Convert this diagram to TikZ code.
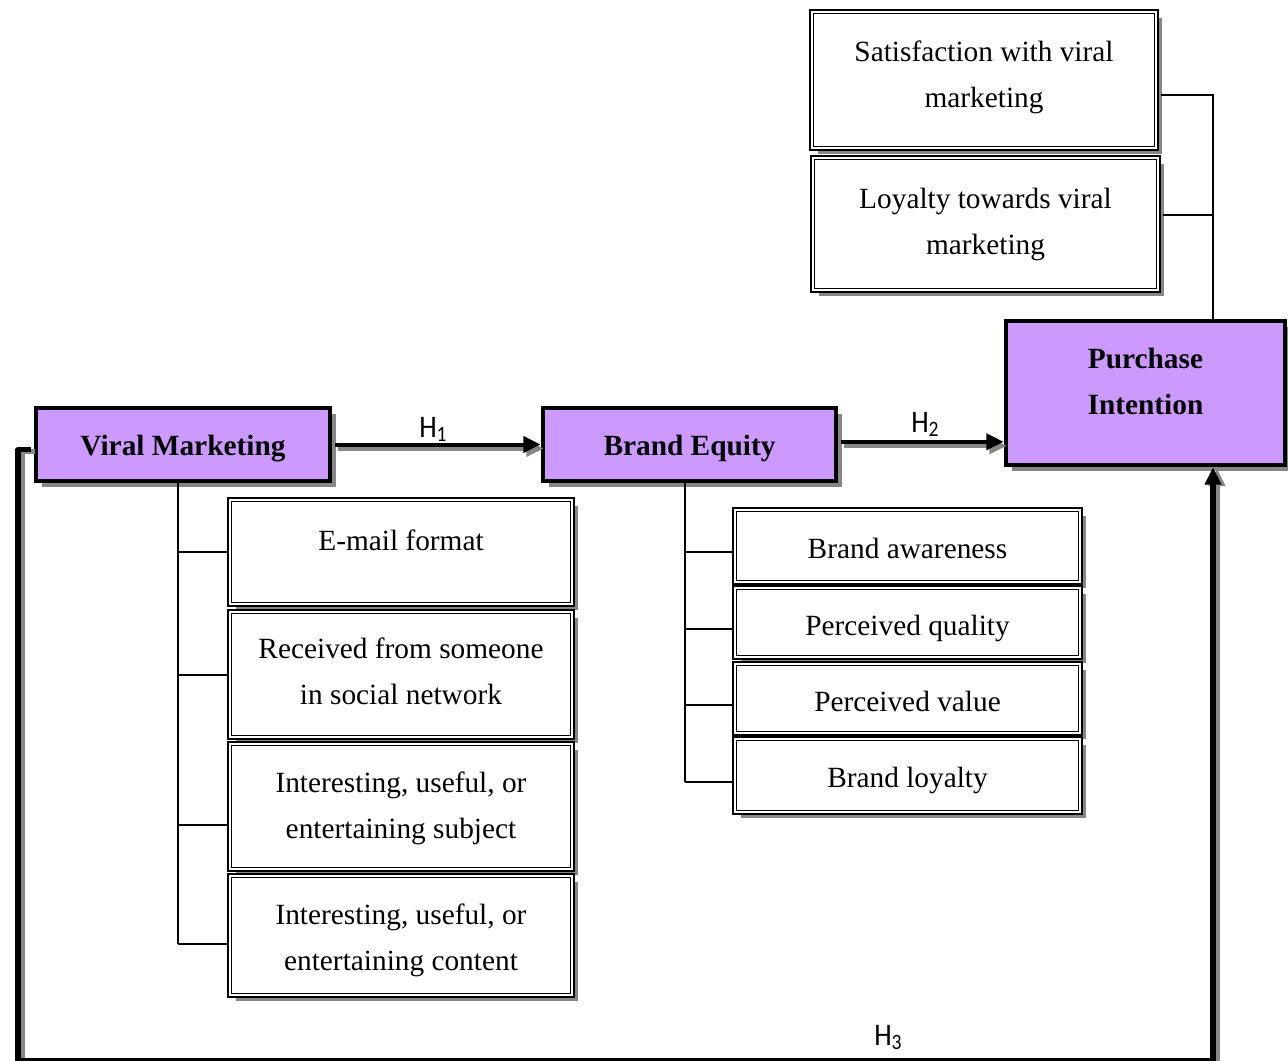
\documentclass[tikz,border=0pt]{standalone}
\usepackage{fontspec}
\usepackage{graphicx}
\setmainfont{Liberation Serif}
\newfontfamily\hfont{Carlito}
\usetikzlibrary{arrows.meta,shadows,calc}
\definecolor{lav}{RGB}{204,153,255}
\definecolor{shd}{RGB}{135,135,135}
\newcommand{\hyplab}[1]{\scalebox{1}[1.12]{H\textsubscript{#1}}}
\begin{document}
\begin{tikzpicture}[x=0.75pt,y=-0.75pt,
 txt/.style={font=\fontsize{22}{34.5}\selectfont, align=center, inner sep=0pt},
 btxt/.style={font=\fontsize{22}{34.5}\selectfont\bfseries, align=center, inner sep=0pt},
 mainbox/.style={draw=black, line width=3.5pt, fill=lav, inner sep=0pt,
   drop shadow={shadow xshift=4.5pt, shadow yshift=-4.5pt, fill=shd, opacity=1}},
 subbox/.style={draw=black, line width=0.9pt, double=white, double distance=1.4pt, fill=white, inner sep=0pt,
   drop shadow={shadow xshift=4.6pt, shadow yshift=-4.6pt, fill=shd, opacity=1},
   preaction={draw=black, line width=5.0pt}},
 tree/.style={line width=1.5pt},
 arrline/.style={line width=3pt, -{Triangle[length=13pt,width=12pt]}},
 hlab/.style={font=\hfont\fontsize{21}{22}\selectfont, inner sep=0pt, anchor=base west}
]
\useasboundingbox (0,0) rectangle (1288,1060);

% top-right factor boxes
\node[subbox, minimum width=344*0.75pt, minimum height=136*0.75pt] (sat) at (984,80) {};
\node[txt] (satt) at (984,77) {Satisfaction with viral\\marketing};
\node[subbox, minimum width=345*0.75pt, minimum height=132*0.75pt] (loy) at (985.5,224) {};
\node[txt] (loyt) at (985.5,224) {Loyalty towards viral\\marketing};

% main constructs
\node[mainbox, minimum width=294*0.75pt, minimum height=73*0.75pt] (vm) at (183,444.5) {};
\node[btxt] (vmt) at (183,448.5) {Viral Marketing};
\node[mainbox, minimum width=293*0.75pt, minimum height=73*0.75pt] (be) at (689.5,444.5) {};
\node[btxt] (bet) at (689.5,448.5) {Brand Equity};
\node[mainbox, minimum width=279*0.75pt, minimum height=144*0.75pt] (pi) at (1145.5,393) {};
\node[btxt] (pit) at (1145.5,381) {Purchase\\Intention};

% viral marketing dimensions
\node[subbox, minimum width=342*0.75pt, minimum height=104*0.75pt] (e1) at (401,552) {};
\node[txt] (e1t) at (401,540) {E-mail format};
\node[subbox, minimum width=342*0.75pt, minimum height=125*0.75pt] (e2) at (401,674.5) {};
\node[txt] (e2t) at (401,671.5) {Received from someone\\in social network};
\node[subbox, minimum width=342*0.75pt, minimum height=125*0.75pt] (e3) at (401,806.5) {};
\node[txt] (e3t) at (401,808.5) {Interesting, useful, or\\entertaining subject};
\node[subbox, minimum width=342*0.75pt, minimum height=119*0.75pt] (e4) at (401,935.5) {};
\node[txt] (e4t) at (401,940.5) {Interesting, useful, or\\entertaining content};

% brand equity dimensions
\node[subbox, minimum width=345*0.75pt, minimum height=72*0.75pt] (b1) at (907.5,546) {};
\node[txt] (b1t) at (907.5,548) {Brand awareness};
\node[subbox, minimum width=345*0.75pt, minimum height=69*0.75pt] (b2) at (907.5,622.5) {};
\node[txt] (b2t) at (907.5,628.5) {Perceived quality};
\node[subbox, minimum width=345*0.75pt, minimum height=69*0.75pt] (b3) at (907.5,698.5) {};
\node[txt] (b3t) at (907.5,701.5) {Perceived value};
\node[subbox, minimum width=345*0.75pt, minimum height=73*0.75pt] (b4) at (907.5,775.5) {};
\node[txt] (b4t) at (907.5,780.5) {Brand loyalty};

% tree connectors
\coordinate (vt) at (178,0);
\coordinate (bt) at (685,0);
\coordinate (pt) at (1213,0);
\draw[tree] (vt |- vm.south) -- ([yshift=-6.5pt]e4.west -| vt);
\draw[tree] (vt |- e1.west) -- ([xshift=-2pt]e1.west);
\draw[tree] (vt |- e2.west) -- ([xshift=-2pt]e2.west);
\draw[tree] ([yshift=-14pt]e3.west -| vt) -- ([xshift=-2pt,yshift=-14pt]e3.west);
\draw[tree] ([yshift=-6.5pt]e4.west -| vt) -- ([xshift=-2pt,yshift=-6.5pt]e4.west);
\draw[tree] (bt |- be.south) -- ([yshift=-5pt]b4.west -| bt);
\foreach \n in {b1,b2,b3,b4}{
  \draw[tree] ([yshift=-4.5pt]\n.west -| bt) -- ([xshift=-2pt,yshift=-4.5pt]\n.west);
}
\draw[tree] ([xshift=3pt,yshift=-11pt]sat.east) -| (pt |- pi.north);
\draw[tree] ([xshift=3pt,yshift=7pt]loy.east) -| (pt |- pi.north);

% hypothesis arrows: shadows first
\coordinate (c1) at (18,1061);
\begin{scope}[transform canvas={shift={(2.2pt,-3pt)}}, draw=shd, color=shd]
  \draw[arrline] ([xshift=2pt]vm.east) -- (be.west);
  \draw[arrline] ([xshift=2pt,yshift=2pt]be.east) -- ([yshift=2pt]be.east -| pi.west);
\end{scope}
\begin{scope}[transform canvas={shift={(3pt,-1pt)}}, draw=shd, color=shd]
  \draw[arrline, line width=3.8pt, line join=round] ([xshift=-2pt,yshift=-4pt]vm.west) -| (c1) -| (pt |- pi.south);
\end{scope}
\draw[arrline] ([xshift=2pt]vm.east) -- (be.west);
\draw[arrline] ([xshift=2pt,yshift=2pt]be.east) -- ([yshift=2pt]be.east -| pi.west);
\draw[arrline, line width=3.8pt, line join=round] ([xshift=-2pt,yshift=-4pt]vm.west) -| (c1) -| (pt |- pi.south);

\node[hlab] (h1) at (419,437) {\hyplab{1}};
\node[hlab] (h2) at (911,432) {\hyplab{2}};
\node[hlab] (h3) at (874,1045) {\hyplab{3}};
\end{tikzpicture}
\end{document}
